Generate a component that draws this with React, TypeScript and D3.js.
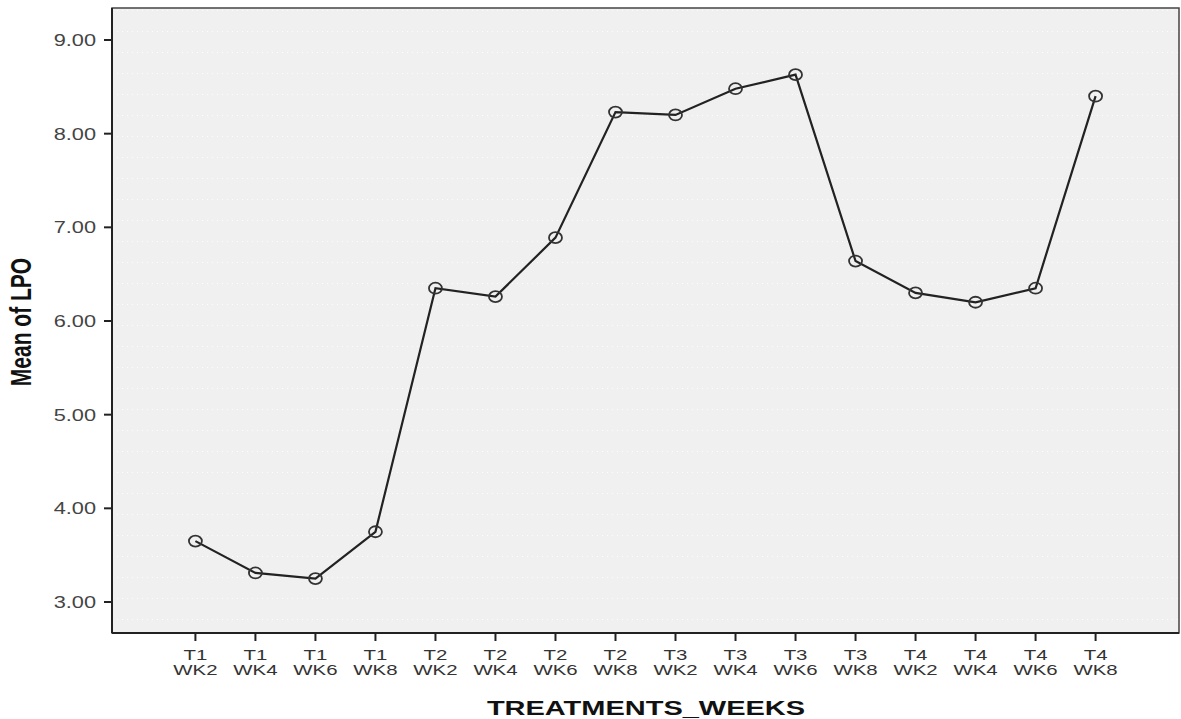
import React from "react";
import * as d3 from "d3";

// Mean LPO per treatment/week group
const treatments = ["T1", "T1", "T1", "T1", "T2", "T2", "T2", "T2", "T3", "T3", "T3", "T3", "T4", "T4", "T4", "T4"];
const weeks = ["WK2", "WK4", "WK6", "WK8", "WK2", "WK4", "WK6", "WK8", "WK2", "WK4", "WK6", "WK8", "WK2", "WK4", "WK6", "WK8"];
const meanLPO = [3.65, 3.31, 3.25, 3.75, 6.35, 6.26, 6.89, 8.23, 8.2, 8.48, 8.63, 6.64, 6.3, 6.2, 6.35, 8.4];
const yTicks = [3, 4, 5, 6, 7, 8, 9];

const W = 1181;
const H = 719;
const frame = { left: 112, right: 1179, top: 8, bottom: 633 };
const SX = 1.36; // horizontal text stretch

export default function App() {
  const keys = treatments.map((t, i) => `${t} ${weeks[i]}`);
  const x = d3
    .scalePoint<string>()
    .domain(keys)
    .range([frame.left, frame.right])
    .padding(1.39);
  const y = d3.scaleLinear().domain([3, 9]).range([602, 40]);

  const line = d3
    .line<number>()
    .x((_, i) => x(keys[i]) as number)
    .y((d) => y(d));

  const font = "Arial, 'Liberation Sans', sans-serif";

  return (
    <svg
      width={W}
      height={H}
      style={{ position: "absolute", left: 0, top: 0, display: "block", background: "#fff" }}
      fontFamily={font}
    >
      <defs>
        <pattern id="dots" width={5} height={21} patternUnits="userSpaceOnUse">
          <rect x={2} y={10} width={1} height={1} fill="#ffffff" opacity={0.8} />
        </pattern>
      </defs>
      <rect
        x={frame.left}
        y={frame.top}
        width={frame.right - frame.left}
        height={frame.bottom - frame.top}
        fill="#f0f0f0"
      />
      <rect
        x={frame.left}
        y={frame.top}
        width={frame.right - frame.left}
        height={frame.bottom - frame.top}
        fill="url(#dots)"
      />
      <rect
        x={frame.left}
        y={frame.top}
        width={frame.right - frame.left}
        height={frame.bottom - frame.top}
        fill="none"
        stroke="#444"
        strokeWidth={1.5}
      />
      <line x1={frame.left} x2={frame.left} y1={frame.top} y2={frame.bottom} stroke="#222" strokeWidth={2} />
      <line x1={frame.left} x2={frame.right} y1={frame.bottom} y2={frame.bottom} stroke="#222" strokeWidth={2} />

      {/* y axis */}
      {yTicks.map((t) => (
        <g key={t}>
          <line x1={frame.left - 8} x2={frame.left} y1={y(t)} y2={y(t)} stroke="#222" strokeWidth={2} />
          <text
            transform={`translate(96,${y(t) + 6}) scale(${SX},1)`}
            textAnchor="end"
            fontSize={16}
            fill="#444"
          >
            {t.toFixed(2)}
          </text>
        </g>
      ))}

      {/* x axis */}
      {keys.map((k, i) => {
        const px = x(k) as number;
        return (
          <g key={k}>
            <line x1={px} x2={px} y1={frame.bottom} y2={frame.bottom + 8} stroke="#222" strokeWidth={2} />
            <text
              transform={`translate(${px},660) scale(${SX},1)`}
              textAnchor="middle"
              fontSize={15}
              fill="#333"
            >
              {treatments[i]}
            </text>
            <text
              transform={`translate(${px},675) scale(${SX},1)`}
              textAnchor="middle"
              fontSize={15}
              fill="#333"
            >
              {weeks[i]}
            </text>
          </g>
        );
      })}

      <text
        transform={`translate(646,715) scale(1.45,1)`}
        textAnchor="middle"
        fontSize={20}
        fontWeight="bold"
        fill="#111"
      >
        TREATMENTS_WEEKS
      </text>
      <text
        transform={`translate(31,322) scale(1.38,1) rotate(-90)`}
        textAnchor="middle"
        fontSize={21}
        fontWeight="bold"
        fill="#111"
      >
        Mean of LPO
      </text>

      {/* series */}
      <path d={line(meanLPO) ?? ""} fill="none" stroke="#222" strokeWidth={2.2} />
      {meanLPO.map((v, i) => (
        <ellipse
          key={i}
          cx={x(keys[i]) as number}
          cy={y(v)}
          rx={6.5}
          ry={5.5}
          fill="none"
          stroke="#333"
          strokeWidth={1.8}
        />
      ))}
    </svg>
  );
}
